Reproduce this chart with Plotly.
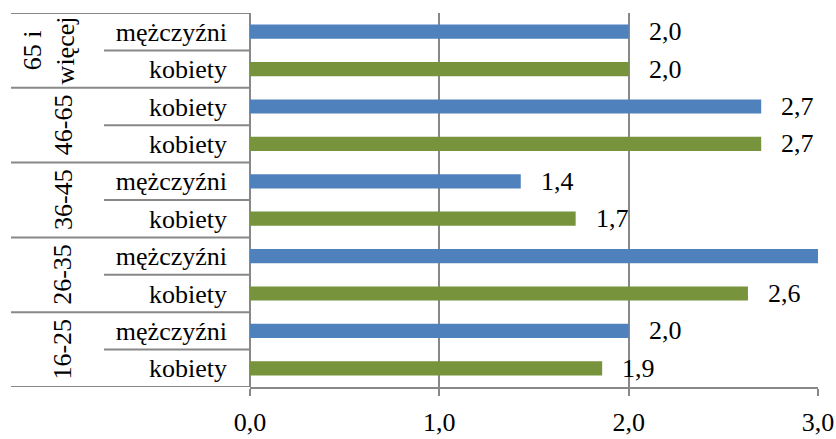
import plotly.graph_objects as go

# Rows listed bottom to top
groups = ["16-25", "26-35", "36-45", "46-65", "65 i<br>więcej"]
row_labels = ["kobiety", "mężczyźni",
              "kobiety", "mężczyźni",
              "kobiety", "mężczyźni",
              "kobiety", "kobiety",
              "kobiety", "mężczyźni"]
# blue bars sit on the upper row of each group, green bars on the lower row
blue_rows = [1, 3, 5, 7, 9]
blue_vals = [2.0, 3.1, 1.43, 2.70, 2.0]
green_rows = [0, 2, 4, 6, 8]
green_vals = [1.86, 2.63, 1.72, 2.70, 2.0]
x_ticks = [0, 1, 2, 3]

BLUE = "#4F81BD"
GREEN = "#77933C"
GRAY = "#888888"
FONT = "Liberation Serif"
FS = 26
W, H = 836, 439
ML, MR, MT, MB = 250, 18, 13, 52
PW = W - ML - MR
XMAX = 3.0

fig = go.Figure()
fig.add_trace(go.Bar(x=blue_vals, y=blue_rows, orientation="h", width=0.38,
                     marker=dict(color=BLUE, line=dict(width=0)), hoverinfo="x"))
fig.add_trace(go.Bar(x=green_vals, y=green_rows, orientation="h", width=0.38,
                     marker=dict(color=GREEN, line=dict(width=0)), hoverinfo="x"))

annotations = []
# value labels to the right of the bars (only those inside the axis range)
for rows, vals in ((blue_rows, blue_vals), (green_rows, green_vals)):
    for r, v in zip(rows, vals):
        if v <= XMAX:
            annotations.append(dict(x=v, y=r, xref="x", yref="y",
                                    text=f"{v:.1f}".replace(".", ","),
                                    showarrow=False, xanchor="left", yanchor="middle",
                                    xshift=18, font=dict(family=FONT, size=FS, color="black")))

def px(xpix):
    return (xpix - ML) / PW

# group labels, rotated, in the left table
for i, g in enumerate(groups):
    annotations.append(dict(x=px(63) if "<br>" not in g else px(49), y=2 * i + 0.5,
                            xref="paper", yref="y", text=g, textangle=-90,
                            showarrow=False, xanchor="center", yanchor="middle",
                            font=dict(family=FONT, size=FS, color="black")))

shapes = []
line = dict(color=GRAY, width=2)
# outer separators between groups (and top / bottom borders of the table)
for b in [-0.5, 1.5, 3.5, 5.5, 7.5, 9.5]:
    shapes.append(dict(type="line", xref="paper", yref="y", x0=px(11), x1=0,
                       y0=b, y1=b, line=line, layer="above"))
# inner separators between the two rows of a group
for b in [0.5, 2.5, 4.5, 6.5, 8.5]:
    shapes.append(dict(type="line", xref="paper", yref="y", x0=px(104), x1=0,
                       y0=b, y1=b, line=line, layer="above"))

fig.update_layout(
    width=W, height=H,
    margin=dict(l=ML, r=MR, t=MT, b=MB),
    paper_bgcolor="white", plot_bgcolor="white",
    separators=", ",
    barmode="overlay",
    showlegend=False,
    font=dict(family=FONT, size=FS, color="black"),
    annotations=annotations,
    shapes=shapes,
    xaxis=dict(range=[0, XMAX], tickvals=x_ticks, tickformat=".1f",
               showgrid=True, gridcolor=GRAY, gridwidth=2,
               zeroline=True, zerolinecolor=GRAY, zerolinewidth=2,
               showline=True, linecolor=GRAY, linewidth=2,
               ticks="outside", ticklen=7, tickwidth=2, tickcolor=GRAY,
               ticklabelstandoff=4, automargin=False,
               tickfont=dict(family=FONT, size=FS, color="black"), fixedrange=True),
    yaxis=dict(range=[-0.5, 9.5], tickvals=list(range(len(row_labels))), ticktext=row_labels,
               showgrid=False, zeroline=False, showline=False, ticks="",
               ticklabelstandoff=22, automargin=False,
               tickfont=dict(family=FONT, size=FS, color="black"), fixedrange=True),
)

fig.write_html("out.html", config={"displayModeBar": False})
